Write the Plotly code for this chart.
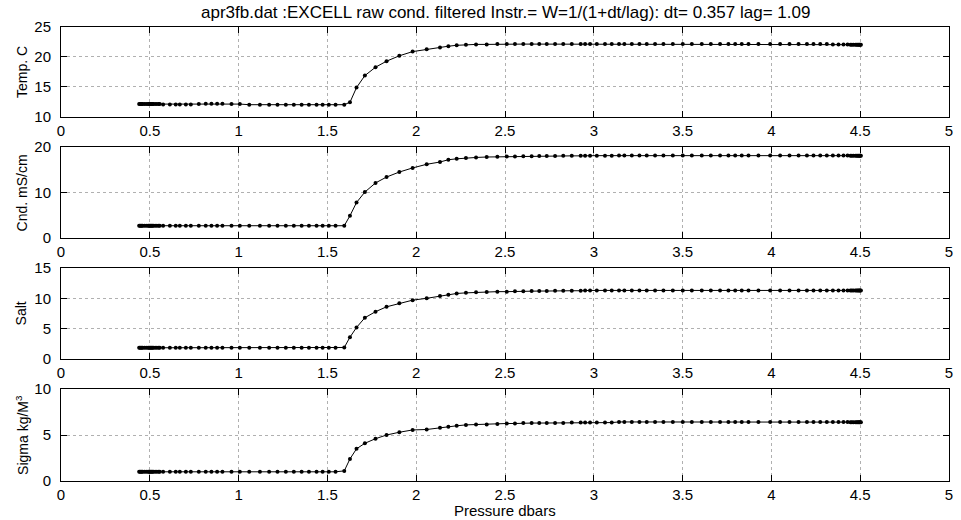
import plotly.graph_objects as go

# ---- data ----
pressure = [
    0.440, 0.445, 0.450, 0.455, 0.460, 0.470, 0.480, 0.490, 0.495, 0.500,
    0.505, 0.510, 0.515, 0.520, 0.530, 0.540, 0.550, 0.556,
    0.575, 0.613, 0.646, 0.669, 0.703, 0.731, 0.776, 0.815, 0.847, 0.879,
    0.909, 0.960, 1.007, 1.060, 1.120, 1.172, 1.219, 1.266, 1.311, 1.355,
    1.396, 1.439, 1.473, 1.508, 1.546, 1.595,
    1.627, 1.664, 1.711, 1.771, 1.833, 1.905, 1.980, 2.059, 2.134, 2.181,
    2.228, 2.280, 2.337, 2.397, 2.457, 2.510, 2.556, 2.603, 2.650, 2.693,
    2.735, 2.782, 2.828, 2.876, 2.926, 2.951, 2.979, 3.017, 3.063, 3.101,
    3.142, 3.172, 3.214, 3.257, 3.298, 3.345, 3.392, 3.445, 3.501, 3.552,
    3.608, 3.659, 3.711, 3.758, 3.796, 3.833, 3.871, 3.927, 3.993, 4.049,
    4.102, 4.153, 4.200, 4.237, 4.275, 4.312, 4.346, 4.378, 4.406, 4.429,
    4.445, 4.453, 4.462, 4.473, 4.480, 4.486, 4.491, 4.496, 4.500, 4.504,
]

temp = [
    12.15, 12.15, 12.15, 12.15, 12.15, 12.15, 12.15, 12.15, 12.15, 12.15,
    12.15, 12.15, 12.15, 12.15, 12.15, 12.15, 12.15, 12.15,
    12.1, 12.1, 12.1, 12.1, 12.1, 12.1, 12.15, 12.2, 12.2, 12.2,
    12.2, 12.15, 12.15, 12.05, 12.05, 12.05, 12.05, 12.05, 12.05, 12.05,
    12.05, 12.05, 12.05, 12.05, 12.05, 12.05,
    12.45, 14.9, 16.9, 18.3, 19.3, 20.2, 20.9, 21.3, 21.6, 21.8,
    21.95, 22.05, 22.1, 22.1, 22.15, 22.15, 22.15, 22.15, 22.15, 22.15,
    22.15, 22.15, 22.15, 22.15, 22.15, 22.15, 22.15, 22.15, 22.15, 22.15,
    22.15, 22.15, 22.15, 22.15, 22.15, 22.15, 22.15, 22.15, 22.15, 22.15,
    22.15, 22.15, 22.15, 22.15, 22.15, 22.15, 22.15, 22.15, 22.15, 22.15,
    22.15, 22.15, 22.15, 22.15, 22.15, 22.15, 22.1, 22.1, 22.1, 22.1,
    22.05, 22.05, 22.05, 22.05, 22.05, 22.05, 22.05, 22.05, 22.05, 22.05,
]

cond = [
    2.7, 2.7, 2.7, 2.7, 2.7, 2.7, 2.7, 2.7, 2.7, 2.7,
    2.7, 2.7, 2.7, 2.7, 2.7, 2.7, 2.7, 2.7,
    2.7, 2.7, 2.7, 2.7, 2.7, 2.7, 2.7, 2.7, 2.7, 2.7,
    2.7, 2.7, 2.7, 2.7, 2.7, 2.7, 2.7, 2.7, 2.7, 2.7,
    2.7, 2.7, 2.7, 2.7, 2.7, 2.7,
    4.9, 7.8, 10.1, 12.1, 13.4, 14.5, 15.4, 16.2, 16.7, 17.2,
    17.4, 17.6, 17.7, 17.8, 17.85, 17.9, 17.9, 17.95, 17.95, 18.0,
    18.0, 18.0, 18.05, 18.05, 18.05, 18.1, 18.1, 18.1, 18.1, 18.1,
    18.15, 18.15, 18.15, 18.15, 18.15, 18.15, 18.15, 18.15, 18.15, 18.15,
    18.15, 18.15, 18.15, 18.15, 18.15, 18.15, 18.15, 18.15, 18.15, 18.15,
    18.15, 18.15, 18.15, 18.15, 18.15, 18.15, 18.15, 18.15, 18.15, 18.15,
    18.1, 18.1, 18.1, 18.1, 18.1, 18.1, 18.1, 18.1, 18.1, 18.1,
]

salt = [
    1.85, 1.85, 1.85, 1.85, 1.85, 1.85, 1.85, 1.85, 1.85, 1.85,
    1.85, 1.85, 1.85, 1.85, 1.85, 1.85, 1.85, 1.85,
    1.85, 1.85, 1.85, 1.85, 1.85, 1.85, 1.85, 1.85, 1.85, 1.85,
    1.85, 1.85, 1.85, 1.85, 1.85, 1.85, 1.85, 1.85, 1.85, 1.85,
    1.85, 1.85, 1.85, 1.85, 1.85, 1.9,
    3.6, 5.2, 6.8, 7.8, 8.6, 9.2, 9.7, 10.0, 10.4, 10.6,
    10.8, 10.9, 11.0, 11.05, 11.1, 11.1, 11.15, 11.15, 11.2, 11.2,
    11.2, 11.25, 11.25, 11.25, 11.25, 11.3, 11.3, 11.3, 11.3, 11.3,
    11.3, 11.3, 11.3, 11.3, 11.3, 11.3, 11.3, 11.3, 11.3, 11.3,
    11.3, 11.3, 11.3, 11.3, 11.3, 11.3, 11.3, 11.3, 11.3, 11.3,
    11.3, 11.3, 11.3, 11.3, 11.3, 11.3, 11.3, 11.3, 11.3, 11.3,
    11.3, 11.3, 11.3, 11.3, 11.3, 11.3, 11.3, 11.3, 11.3, 11.3,
]

sigma = [
    1.0, 1.0, 1.0, 1.0, 1.0, 1.0, 1.0, 1.0, 1.0, 1.0,
    1.0, 1.0, 1.0, 1.0, 1.0, 1.0, 1.0, 1.0,
    1.0, 1.0, 1.0, 1.0, 1.0, 1.0, 1.0, 1.0, 1.0, 1.0,
    1.0, 1.0, 1.0, 1.0, 1.0, 1.0, 1.0, 1.0, 1.0, 1.0,
    1.0, 1.0, 1.0, 1.0, 1.0, 1.1,
    2.4, 3.5, 4.1, 4.6, 5.0, 5.3, 5.55, 5.6, 5.8, 5.9,
    6.0, 6.1, 6.15, 6.15, 6.2, 6.25, 6.25, 6.3, 6.3, 6.3,
    6.3, 6.3, 6.3, 6.35, 6.35, 6.35, 6.35, 6.35, 6.35, 6.35,
    6.42, 6.42, 6.42, 6.42, 6.42, 6.42, 6.42, 6.42, 6.42, 6.42,
    6.42, 6.42, 6.42, 6.42, 6.42, 6.42, 6.42, 6.42, 6.42, 6.42,
    6.42, 6.42, 6.42, 6.42, 6.42, 6.42, 6.42, 6.42, 6.42, 6.42,
    6.4, 6.4, 6.4, 6.4, 6.4, 6.4, 6.4, 6.4, 6.4, 6.4,
]

y_labels = ["Temp. C", "Cnd. mS/cm", "Salt", "Sigma kg/M<sup>3</sup>"]
y_ranges = [[10, 25], [0, 20], [0, 15], [0, 10]]
y_dticks = [5, 10, 5, 5]
x_ticks = [0, 0.5, 1, 1.5, 2, 2.5, 3, 3.5, 4, 4.5, 5]
title_text = "apr3fb.dat :EXCELL raw cond. filtered Instr.= W=1/(1+dt/lag): dt= 0.357 lag= 1.09"
x_title = "Pressure dbars"

# ---- figure ----
series = [temp, cond, salt, sigma]
domains = [[0.8018, 1.0], [0.5352, 0.7357], [0.2687, 0.4692], [0.0, 0.2026]]
FONT = "Liberation Sans, Arial, sans-serif"

fig = go.Figure()
layout = dict(
    width=961, height=520,
    margin=dict(l=61, r=12, t=27, b=39, autoexpand=False),
    paper_bgcolor="white", plot_bgcolor="white",
    showlegend=False, hovermode=False,
    font=dict(family=FONT, size=14, color="black"),
    annotations=[],
)

for i, vals in enumerate(series):
    n = i + 1
    xa = "x" if n == 1 else f"x{n}"
    ya = "y" if n == 1 else f"y{n}"
    fig.add_trace(go.Scatter(
        x=pressure, y=vals, mode="lines+markers",
        line=dict(color="black", width=1),
        marker=dict(color="black", size=4),
        xaxis=xa, yaxis=ya, hoverinfo="skip",
    ))
    axis_common = dict(
        showline=True, linecolor="black", linewidth=1, mirror="ticks",
        ticks="inside", ticklen=6, tickcolor="black",
        showgrid=True, gridcolor="#b0b0b0", griddash="dot", gridwidth=1,
        zeroline=False, automargin=False,
        tickfont=dict(family=FONT, size=15, color="black"),
    )
    layout[f"xaxis{'' if n == 1 else n}"] = dict(
        axis_common, range=[0, 5], tickvals=x_ticks,
        anchor=ya, domain=[0, 1], ticklabelstandoff=0,
    )
    layout[f"yaxis{'' if n == 1 else n}"] = dict(
        axis_common, range=y_ranges[i], dtick=y_dticks[i],
        anchor=xa, domain=domains[i], ticklabelstandoff=6,
    )
    layout["annotations"].append(dict(
        text=y_labels[i], xref="paper", yref="paper",
        x=-0.044, y=(domains[i][0] + domains[i][1]) / 2,
        xanchor="center", yanchor="middle", textangle=-90,
        showarrow=False, font=dict(family=FONT, size=14, color="black"),
    ))

layout["annotations"].append(dict(
    text=title_text, xref="paper", yref="paper", x=0.5, y=1.0, yshift=15,
    xanchor="center", yanchor="middle", showarrow=False,
    font=dict(family=FONT, size=17, color="black"),
))
layout["annotations"].append(dict(
    text=x_title, xref="paper", yref="paper", x=0.5, y=0.0, yshift=-29,
    xanchor="center", yanchor="middle", showarrow=False,
    font=dict(family=FONT, size=15, color="black"),
))

fig.update_layout(**layout)
# remove the browser's default 8px body margin so the figure sits at (0, 0)
fig.write_html(
    "out.html",
    config={"displayModeBar": False, "staticPlot": True},
    post_script="document.body.style.margin='0';",
)
